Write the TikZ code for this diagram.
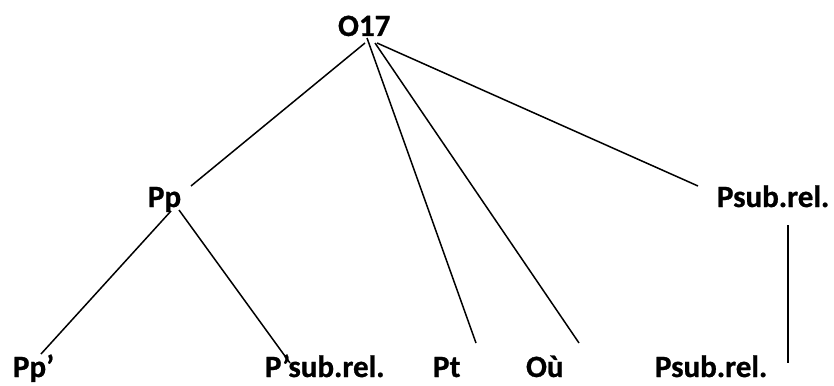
\documentclass[tikz,border=0pt]{standalone}
\usepackage{fontspec}
\setmainfont{Carlito}[BoldFeatures={FakeBold=0.8}]
\begin{document}
\begin{tikzpicture}[x=1pt,y=-1pt,
  lbl/.style={anchor=base west,inner sep=0pt,outer sep=0pt,font=\fontsize{31}{36}\selectfont\bfseries},
  edge/.style={line width=1.5pt,black}]
\useasboundingbox (0,0) rectangle (834,385);
% labels
\node[lbl] (o17) at (338,36) {O17};
\node[lbl] (pp) at (148,207) {Pp};
\node[lbl] (psubtop) at (717,207) {Psub.rel.};
\node[lbl] (ppp) at (13,377) {Pp’};
\node[lbl] (psubp) at (265,377) {P’sub.rel.};
\node[lbl] (pt) at (433,377) {Pt};
\node[lbl] (ou) at (526,377) {Où};
\node[lbl] (psubbot) at (655,377) {Psub.rel.};
% connector end points
\coordinate (o17a) at (365,43);
\coordinate (o17b) at (367,38);
\coordinate (o17c) at (375,43);
\coordinate (o17d) at (377,43);
\coordinate (ppin) at (191,186);
\coordinate (ppa) at (171,211);
\coordinate (ppb) at (179,210);
\coordinate (pppin) at (41,354);
\coordinate (psubpin) at (290,363);
\coordinate (ptin) at (476,343);
\coordinate (ouin) at (579,343);
\coordinate (psubtopin) at (698,186);
\coordinate (psubtopout) at (788,225);
\coordinate (psubbotin) at (788,363);
% connectors
\draw[edge] (o17a) -- (ppin);
\draw[edge] (o17b) -- (ptin);
\draw[edge] (o17c) -- (ouin);
\draw[edge] (o17d) -- (psubtopin);
\draw[edge] (ppa) -- (pppin);
\draw[edge] (ppb) -- (psubpin);
\draw[edge] (psubtopout) -- (psubbotin);
\end{tikzpicture}
\end{document}
